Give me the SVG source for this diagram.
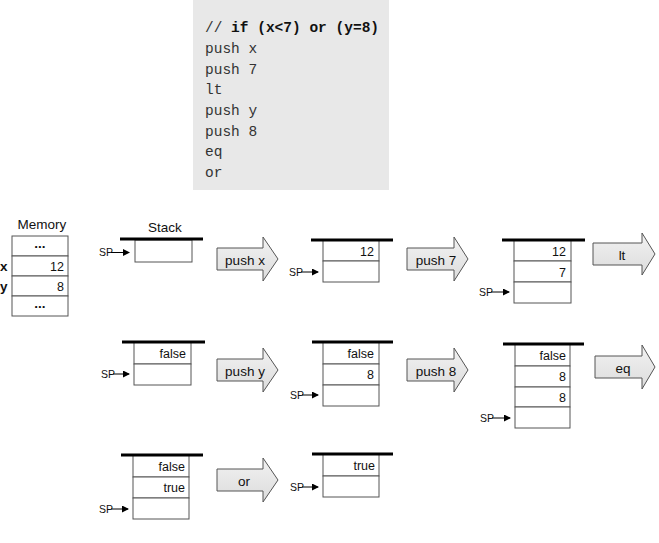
<svg xmlns="http://www.w3.org/2000/svg" width="659" height="543" viewBox="0 0 659 543">
<defs>
<style>
.code{font-family:"Liberation Mono","Courier New",monospace;font-size:14.5px;fill:#333}
.lbl{font-family:"Liberation Sans",Arial,sans-serif;font-size:13.5px;fill:#111}
.val{font-family:"Liberation Sans",Arial,sans-serif;font-size:12.5px;fill:#111;text-anchor:end}
.sp{font-family:"Liberation Sans",Arial,sans-serif;font-size:10.5px;fill:#111}
.cell{fill:#fff;stroke:#555;stroke-width:1}
.top{stroke:#000;stroke-width:3}
.op{fill:url(#g);stroke:#555;stroke-width:1}
.opt{font-family:"Liberation Sans",Arial,sans-serif;font-size:13.5px;fill:#111;text-anchor:middle}
.spl{stroke:#000;stroke-width:1;fill:none}
</style>
<linearGradient id="g" x1="0" y1="0" x2="0" y2="1">
<stop offset="0" stop-color="#f2f2f2"/>
<stop offset="1" stop-color="#dcdcdc"/>
</linearGradient>
<marker id="ah" markerWidth="7" markerHeight="7" refX="6" refY="3.5" orient="auto" markerUnits="userSpaceOnUse">
<path d="M0,0 L7,3.5 L0,7 Z" fill="#000"/>
</marker>
</defs>
<rect width="659" height="543" fill="#fff"/>

<g id="code">
<rect x="193" y="0" width="196" height="190" fill="#e8e8e8"/>
<text class="code" x="205" y="32">// <tspan font-weight="bold" fill="#111">if (x&lt;7) or (y=8)</tspan></text>
<text class="code" x="205" y="53">push x</text>
<text class="code" x="205" y="74">push 7</text>
<text class="code" x="205" y="94">lt</text>
<text class="code" x="205" y="115">push y</text>
<text class="code" x="205" y="136">push 8</text>
<text class="code" x="205" y="156">eq</text>
<text class="code" x="205" y="177">or</text>
</g>

<g id="memory">
<text class="lbl" x="42" y="229" text-anchor="middle">Memory</text>
<rect class="cell" x="12" y="236" width="56" height="20"/>
<rect class="cell" x="12" y="256" width="56" height="20"/>
<rect class="cell" x="12" y="276" width="56" height="20"/>
<rect class="cell" x="12" y="296" width="56" height="20"/>
<text class="lbl" x="40" y="248" text-anchor="middle" font-weight="bold">...</text>
<text class="val" x="64" y="271">12</text>
<text class="val" x="64" y="291">8</text>
<text class="lbl" x="40" y="308" text-anchor="middle" font-weight="bold">...</text>
<text class="lbl" x="0" y="271" font-weight="bold">x</text>
<text class="lbl" x="0" y="291" font-weight="bold">y</text>
</g>

<g id="stack1">
<text class="lbl" x="165" y="232" text-anchor="middle">Stack</text>
<rect class="cell" x="135" y="240" width="57" height="22"/>
<line class="top" x1="120" y1="239" x2="203" y2="239"/>
<text class="sp" x="99" y="256">SP</text>
<line class="spl" x1="111" y1="252.5" x2="129" y2="252.5" marker-end="url(#ah)"/>
</g>

<g id="stack2">
<rect class="cell" x="323" y="240" width="56" height="21"/>
<rect class="cell" x="323" y="261" width="56" height="21"/>
<text class="val" x="374" y="256">12</text>
<line class="top" x1="311" y1="240" x2="393" y2="240"/>
<text class="sp" x="289" y="276">SP</text>
<line class="spl" x1="301" y1="272" x2="318" y2="272" marker-end="url(#ah)"/>
</g>

<g id="stack3">
<rect class="cell" x="514" y="240" width="57" height="21"/>
<rect class="cell" x="514" y="261" width="57" height="21"/>
<rect class="cell" x="514" y="282" width="57" height="21"/>
<text class="val" x="566" y="256">12</text>
<text class="val" x="566" y="277">7</text>
<line class="top" x1="502" y1="240" x2="585" y2="240"/>
<text class="sp" x="479" y="296">SP</text>
<line class="spl" x1="491" y1="292" x2="509" y2="292" marker-end="url(#ah)"/>
</g>

<g id="stack4">
<rect class="cell" x="134" y="342" width="57" height="22"/>
<rect class="cell" x="134" y="364" width="57" height="21"/>
<text class="val" x="186" y="358">false</text>
<line class="top" x1="122" y1="342" x2="205" y2="342"/>
<text class="sp" x="101" y="378">SP</text>
<line class="spl" x1="113" y1="374" x2="129" y2="374" marker-end="url(#ah)"/>
</g>

<g id="stack5">
<rect class="cell" x="323" y="342" width="56" height="22"/>
<rect class="cell" x="323" y="364" width="56" height="21"/>
<rect class="cell" x="323" y="385" width="56" height="21"/>
<text class="val" x="374" y="358">false</text>
<text class="val" x="374" y="379">8</text>
<line class="top" x1="312" y1="342" x2="393" y2="342"/>
<text class="sp" x="290" y="399">SP</text>
<line class="spl" x1="302" y1="395" x2="318" y2="395" marker-end="url(#ah)"/>
</g>

<g id="stack6">
<rect class="cell" x="515" y="344" width="55" height="22"/>
<rect class="cell" x="515" y="366" width="55" height="21"/>
<rect class="cell" x="515" y="387" width="55" height="20"/>
<rect class="cell" x="515" y="407" width="55" height="21"/>
<text class="val" x="566" y="360">false</text>
<text class="val" x="566" y="381">8</text>
<text class="val" x="566" y="402">8</text>
<line class="top" x1="503" y1="344" x2="584" y2="344"/>
<text class="sp" x="480" y="422">SP</text>
<line class="spl" x1="492" y1="418" x2="510" y2="418" marker-end="url(#ah)"/>
</g>

<g id="stack7">
<rect class="cell" x="133" y="455" width="56" height="22"/>
<rect class="cell" x="133" y="477" width="56" height="21"/>
<rect class="cell" x="133" y="498" width="56" height="21"/>
<text class="val" x="185" y="471">false</text>
<text class="val" x="185" y="492">true</text>
<line class="top" x1="121" y1="455" x2="203" y2="455"/>
<text class="sp" x="99" y="513">SP</text>
<line class="spl" x1="111" y1="509" x2="128" y2="509" marker-end="url(#ah)"/>
</g>

<g id="stack8">
<rect class="cell" x="323" y="454" width="56" height="22"/>
<rect class="cell" x="323" y="476" width="56" height="21"/>
<text class="val" x="375" y="470">true</text>
<line class="top" x1="312" y1="454" x2="393" y2="454"/>
<text class="sp" x="290" y="491">SP</text>
<line class="spl" x1="302" y1="487" x2="318" y2="487" marker-end="url(#ah)"/>
</g>

<g id="connectors">
<g id="op-pushx">
<path class="op" d="M217,248 H263 V237 L278,259 L263,281 V270 H217 Z"/>
<text class="opt" x="245" y="264.5">push x</text>
</g>
<g id="op-push7">
<path class="op" d="M407,248 H454 V237 L468,259 L454,281 V270 H407 Z"/>
<text class="opt" x="436" y="264.5">push 7</text>
</g>
<g id="op-lt">
<path class="op" d="M593,243 H642 V233 L655,254 L642,275 V265 H593 Z"/>
<text class="opt" x="622" y="259.5">lt</text>
</g>
<g id="op-pushy">
<path class="op" d="M217,359 H263 V348 L278,370 L263,392 V381 H217 Z"/>
<text class="opt" x="245" y="375.5">push y</text>
</g>
<g id="op-push8">
<path class="op" d="M407,359 H454 V348 L468,370 L454,392 V381 H407 Z"/>
<text class="opt" x="436" y="375.5">push 8</text>
</g>
<g id="op-eq">
<path class="op" d="M595,356 H642 V345 L655,367 L642,389 V378 H595 Z"/>
<text class="opt" x="623" y="372.5">eq</text>
</g>
<g id="op-or">
<path class="op" d="M217,469 H263 V458 L278,480 L263,502 V491 H217 Z"/>
<text class="opt" x="244" y="485.5">or</text>
</g>
</g>
</svg>
